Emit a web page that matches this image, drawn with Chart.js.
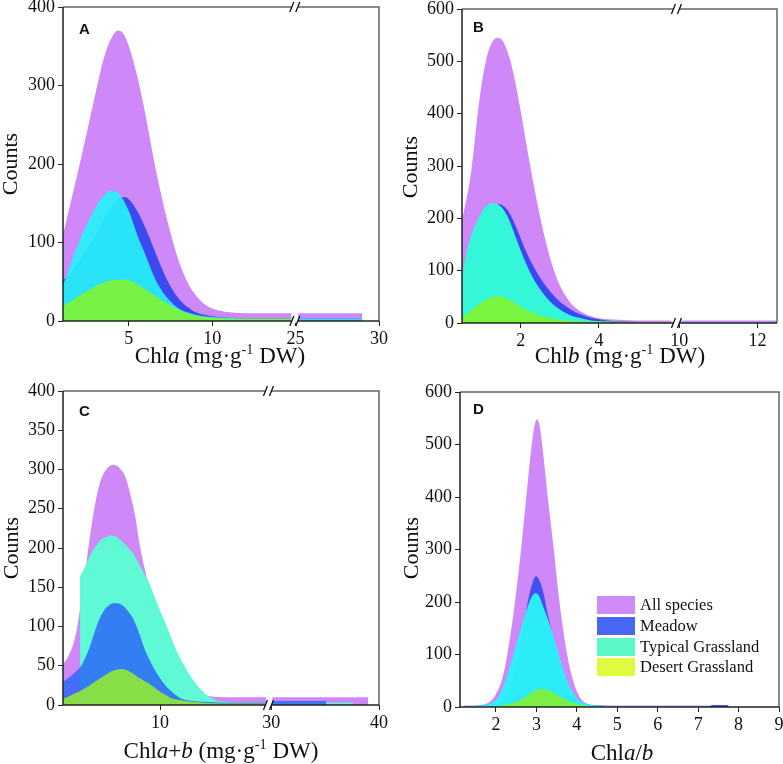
<!DOCTYPE html>
<html>
<head>
<meta charset="utf-8">
<script src="https://cdn.jsdelivr.net/npm/chart.js@4.4.1/dist/chart.umd.min.js"></script>
<style>
    html, body { margin: 0; padding: 0; background: #fff; }
    #wrap { position: relative; width: 783px; height: 764px; overflow: hidden; font-family: 'Liberation Serif', 'Times New Roman', serif; color: #111; }
    #wrap canvas { position: absolute; }
    .xt { position: absolute; font-size: 23px; line-height: 1; white-space: nowrap; transform: translate(-50%, -50%); }
    .yt { position: absolute; font-size: 22px; line-height: 1; white-space: nowrap; transform: translate(-50%, -50%) rotate(-90deg); }
    .tag { position: absolute; font: bold 15px 'Liberation Sans', Arial, sans-serif; line-height: 1; }
    sup { font-size: 0.62em; vertical-align: 0.6em; line-height: 0; }
    #legend { position: absolute; left: 597px; top: 595px; font-size: 16.5px; }
    #legend .row { height: 20.7px; display: flex; align-items: center; }
    #legend .sw { width: 38px; height: 18px; margin-right: 5px; }
</style>
</head>
<body>
<div id="wrap">
    <canvas id="chartA" width="391" height="402" style="left:0;top:-20px"></canvas>
    <canvas id="chartB" width="392" height="402" style="left:391px;top:-20px"></canvas>
    <canvas id="chartC" width="391" height="402" style="left:0;top:362px"></canvas>
    <canvas id="chartD" width="400" height="402" style="left:391px;top:362px"></canvas>

    <div class="tag" style="left:79px;top:21px">A</div>
    <div class="tag" style="left:473px;top:19px">B</div>
    <div class="tag" style="left:79px;top:403px">C</div>
    <div class="tag" style="left:473px;top:401px">D</div>

    <div class="yt" style="left:10px;top:164px">Counts</div>
    <div class="yt" style="left:410px;top:167px">Counts</div>
    <div class="yt" style="left:11px;top:548px">Counts</div>
    <div class="yt" style="left:411px;top:548px">Counts</div>

    <div class="xt" style="left:220px;top:355px">Chl<i>a</i> (mg·g<sup>-1</sup> DW)</div>
    <div class="xt" style="left:620px;top:355px">Chl<i>b</i> (mg·g<sup>-1</sup> DW)</div>
    <div class="xt" style="left:221px;top:750px">Chl<i>a</i>+<i>b</i> (mg·g<sup>-1</sup> DW)</div>
    <div class="xt" style="left:622px;top:752px">Chl<i>a</i>/<i>b</i></div>

    <div id="legend"></div>
</div>

<script>
// --- DATA: [x, count] pairs ---
const seriesNames = ['All species', 'Meadow', 'Typical Grassland', 'Desert Grassland'];
const legendColors = ['#d08af8', '#4a66f5', '#5cf8c8', '#e0fa40'];

// A: Chl a
const aAll = [[1.05,110],[1.5,150],[2,195],[2.5,242],[3,290],[3.5,335],[4,362],[4.35,370],[4.7,365],[5,350],[5.5,312],[6,262],[6.5,205],[7,155],[7.5,112],[8,76],[8.5,50],[9,33],[9.5,22],[10,16],[10.5,13],[11,11],[12,10],[13,10],[14.75,10],[25.15,10],[29,10]];
const aMeadow = [[1.05,52],[1.5,60],[2,76],[2.5,92],[3,110],[3.5,130],[4,147],[4.7,158],[5,155],[5.5,140],[6,118],[6.5,92],[7,66],[7.5,44],[8,28],[8.5,18],[9,11],[10,6],[11,4],[12,3],[14.75,3],[25.15,3],[29,3]];
const aTypical = [[1.05,46],[1.5,72],[2,100],[2.5,124],[3,145],[3.5,160],[4,166],[4.5,160],[5,140],[5.5,110],[6,84],[6.5,57],[7,38],[7.5,25],[8,16],[8.5,11],[9,8],[10,5],[11,4],[12,3],[14.75,3],[25.15,3],[29,3]];
const aDesert = [[1.05,19],[1.5,25],[2,32],[2.5,38],[3,44],[3.5,49],[4,52],[4.7,53],[5,52],[5.5,47],[6,40],[6.5,33],[7,26],[7.5,20],[8,14],[8.5,10],[9,7],[9.5,5],[10,4],[11,3],[12,3],[14.75,3]];
const aXTicks = [5, 10, 25, 30];

// B: Chl b
const bAll = [[0.5,197],[0.6,232],[0.7,272],[0.8,330],[0.9,400],[1,455],[1.1,497],[1.2,525],[1.3,540],[1.42,545],[1.55,538],[1.7,510],[1.85,465],[2,405],[2.2,318],[2.4,238],[2.6,168],[2.8,112],[3,72],[3.2,46],[3.4,29],[3.6,19],[3.8,13],[4,9],[4.5,6],[5,5],[5.85,5],[10.05,5],[12.5,5]];
const bMeadow = [[0.5,85],[0.65,132],[0.8,170],[0.95,198],[1.1,215],[1.3,225],[1.46,227],[1.6,221],[1.75,205],[1.9,180],[2.1,143],[2.3,112],[2.5,86],[2.7,65],[2.9,48],[3.1,35],[3.3,25],[3.5,17],[3.8,10],[4.2,5],[4.6,3],[5,2],[5.85,2],[10.05,2],[12.5,2]];
const bTypical = [[0.5,90],[0.65,146],[0.8,180],[0.9,197],[1.1,222],[1.3,229],[1.5,222],[1.7,198],[1.9,158],[2.1,120],[2.3,88],[2.5,64],[2.7,45],[2.9,31],[3.1,21],[3.3,14],[3.5,10],[3.8,5],[4.2,3],[5,2],[5.85,2],[10.05,2],[12.5,2]];
const bDesert = [[0.5,10],[0.7,22],[0.9,34],[1.1,44],[1.4,51],[1.7,45],[2,31],[2.3,20],[2.6,12],[2.9,7],[3.3,4],[4,3],[5,2],[5.85,2]];
const bXTicks = [2, 4, 10, 12];

// C: Chl a+b
const cAll = [[1,52],[1.5,62],[2,80],[2.33,100],[2.6,125],[2.9,152],[3.35,200],[3.9,250],[4.4,282],[5,300],[5.7,306],[6.3,301],[6.8,290],[7.3,265],[7.7,240],[8.1,205],[8.5,178],[9,150],[9.5,122],[10,95],[10.5,75],[11,57],[12,33],[13,19],[14,13],[15,10.5],[16,10],[19.85,10],[30.1,10],[39,10]];
const cMeadow = [[1,30],[1.5,34],[2,40],[2.58,48],[3,58],[3.5,75],[4,96],[4.5,113],[5,124],[5.8,130],[6.5,127],[7,120],[7.5,110],[8,94],[8.5,74],[9,58],[9.5,45],[10,34],[10.5,25],[11,18],[11.5,12],[12,8],[13,5],[14,4],[16,3],[19.85,3],[30.1,5],[35.1,5]];
const cTypical = [[2.58,164],[3,175],[3.5,190],[4,202],[4.5,210],[5,214],[5.5,216],[6,214],[6.5,208],[7,201],[7.5,193],[8,181],[8.5,168],[9,155],[9.5,138],[10,120],[10.5,104],[11,87],[11.5,70],[12,56],[12.5,44],[13,33],[13.5,24],[14,17],[14.5,11],[15,7],[16,4],[17,3],[19.85,3],[30.1,3],[37.6,3]];
const cDesert = [[1,8],[2,14],[3,21],[4,30],[5,39],[5.5,43],[6.4,46],[7,44],[7.5,40],[8,35],[8.5,31],[9,27],[9.5,22],[10,17],[10.5,13],[11,9],[12,6],[13,4],[14,3],[16,2],[19.85,2]];
const cXTicks = [10, 30, 40];

// D: Chl a/b
const dAll = [[1.2,3],[1.6,4],[1.85,10],[2,25],[2.14,50],[2.28,100],[2.47,200],[2.62,300],[2.75,400],[2.87,490],[2.94,530],[3.01,548],[3.08,535],[3.15,495],[3.28,400],[3.43,300],[3.57,200],[3.76,100],[3.91,50],[4.05,22],[4.17,10],[4.4,4],[5,3],[6,3],[7,3],[7.75,3]];
const dMeadow = [[1.6,2],[2,5],[2.2,20],[2.4,55],[2.6,120],[2.8,205],[2.92,240],[2.98,249],[3.05,245],[3.15,225],[3.3,170],[3.5,105],[3.7,50],[3.9,20],[4.1,8],[4.5,3],[5,2],[7.3,2],[7.35,4],[7.75,4]];
const dTypical = [[1.2,2],[1.6,3],[1.94,10],[2.1,25],[2.23,50],[2.43,100],[2.62,150],[2.8,195],[2.9,212],[2.98,217],[3.06,212],[3.15,195],[3.36,150],[3.55,100],[3.76,50],[3.95,22],[4.1,10],[4.4,4],[5,2],[6,2],[7.3,2]];
const dDesert = [[1.8,1],[2.2,4],[2.52,10],[2.75,20],[2.95,31],[3.14,35],[3.35,30],[3.6,19],[3.84,10],[4.1,4],[4.5,1]];
const dXTicks = [2, 3, 4, 5, 6, 7, 8, 9];

// --- broken x axis helpers ---
function toCoord(x, brk) {
    return brk && x > brk.lo ? x - brk.shift : x;
}

function buildPoints(pairs, brk) {
    const pts = [];
    pairs.forEach(([x, y], i) => {
        if (brk && i > 0 && pairs[i - 1][0] <= brk.lo && x > brk.lo) {
            pts.push({ x: brk.at, y: null }); // gap at the axis break
        }
        pts.push({ x: toCoord(x, brk), y: y });
    });
    return pts;
}

// Box frame + "//" break marks
const framePlugin = {
    id: 'frame',
    afterDraw(chart, args, opts) {
        const { ctx, chartArea: { left, right, top, bottom } } = chart;
        ctx.save();
        ctx.lineWidth = 1.5;
        ctx.strokeStyle = '#666';
        ctx.beginPath();
        ctx.moveTo(left, top); ctx.lineTo(right, top); ctx.lineTo(right, bottom);
        ctx.stroke();
        ctx.strokeStyle = '#222';
        ctx.beginPath();
        ctx.moveTo(left, top); ctx.lineTo(left, bottom); ctx.lineTo(right, bottom);
        ctx.stroke();
        if (opts.at != null) {
            const px = chart.scales.x.getPixelForValue(opts.at);
            [top, bottom].forEach(y => {
                ctx.fillStyle = '#fff';
                ctx.fillRect(px - 3, y - 2, 6, 4);
                ctx.strokeStyle = '#111';
                ctx.lineWidth = 1.3;
                ctx.beginPath();
                ctx.moveTo(px - 5, y + 5); ctx.lineTo(px - 1, y - 5);
                ctx.moveTo(px + 1, y + 5); ctx.lineTo(px + 5, y - 5);
                ctx.stroke();
            });
        }
        ctx.restore();
    }
};

const tickFont = { family: "'Liberation Serif', 'Times New Roman', serif", size: 18 };

function makePanel(canvasId, p) {
    const datasets = p.series.map((s, i) => ({
        label: seriesNames[i],
        data: buildPoints(s, p.brk),
        backgroundColor: p.colors[i],
        borderColor: 'transparent',
        borderWidth: 0,
        pointRadius: 0,
        fill: 'origin',
        tension: 0.4,
        cubicInterpolationMode: 'monotone',
        spanGaps: false,
        order: p.order[i]
    }));

    new Chart(document.getElementById(canvasId), {
        type: 'line',
        data: { datasets: datasets },
        options: {
            responsive: false,
            animation: false,
            events: [],
            layout: { padding: p.pad },
            plugins: {
                legend: { display: false },
                tooltip: { enabled: false },
                frame: { at: p.brk ? p.brk.at : null }
            },
            scales: {
                x: {
                    type: 'linear',
                    min: p.xMin,
                    max: p.xMax,
                    border: { display: false },
                    grid: { drawOnChartArea: false, drawTicks: true, tickLength: 5, color: '#222' },
                    afterBuildTicks: scale => {
                        scale.ticks = p.xTicks.map(v => ({ value: toCoord(v, p.brk), label: String(v) }));
                    },
                    afterFit: scale => { scale.height = p.xH; },
                    ticks: {
                        autoSkip: false,
                        maxRotation: 0,
                        padding: 2,
                        color: '#111',
                        font: tickFont,
                        callback: function(value, index) { return String(p.xTicks[index]); }
                    }
                },
                y: {
                    min: 0,
                    max: p.yMax,
                    border: { display: false },
                    grid: { drawOnChartArea: false, drawTicks: true, tickLength: 5, color: '#222' },
                    afterFit: scale => { scale.width = p.yW; },
                    ticks: { stepSize: p.yStep, padding: 3, color: '#111', font: tickFont }
                }
            }
        },
        plugins: [framePlugin]
    });
}

makePanel('chartA', {
    series: [aAll, aMeadow, aTypical, aDesert],
    colors: ['#cf88f7', '#3a4af0', 'rgba(40,240,250,0.93)', 'rgba(124,242,58,0.95)'],
    order: [4, 3, 2, 1],
    brk: { lo: 14.9, shift: 10, at: 14.95 },
    xMin: 1.05, xMax: 20, xTicks: aXTicks,
    yMax: 400, yStep: 100,
    pad: { top: 27, right: 12, bottom: 0, left: 0 }, yW: 63, xH: 61
});

makePanel('chartB', {
    series: [bAll, bMeadow, bTypical, bDesert],
    colors: ['#cf88f7', '#3a4af2', '#33f7d8', 'rgba(124,244,58,0.97)'],
    order: [4, 3, 2, 1],
    brk: { lo: 6, shift: 3.95, at: 5.98 },
    xMin: 0.5, xMax: 8.55, xTicks: bXTicks,
    yMax: 600, yStep: 100,
    pad: { top: 29, right: 6, bottom: 0, left: 0 }, yW: 71, xH: 59
});

makePanel('chartC', {
    series: [cAll, cMeadow, cTypical, cDesert],
    colors: ['#cf88f7', 'rgba(45,105,248,0.85)', '#5ff9d6', 'rgba(150,238,40,0.85)'],
    order: [4, 2, 3, 1],
    brk: { lo: 20, shift: 9.7, at: 20.05 },
    xMin: 1, xMax: 30.3, xTicks: cXTicks,
    yMax: 400, yStep: 50,
    pad: { top: 29, right: 12, bottom: 0, left: 0 }, yW: 63, xH: 59
});

makePanel('chartD', {
    series: [dAll, dMeadow, dTypical, dDesert],
    colors: ['#cf88f7', '#4050f2', 'rgba(44,242,250,0.96)', 'rgba(126,240,60,0.95)'],
    order: [4, 3, 2, 1],
    brk: null,
    xMin: 1.11, xMax: 9, xTicks: dXTicks,
    yMax: 600, yStep: 100,
    pad: { top: 30, right: 12, bottom: 0, left: 0 }, yW: 69, xH: 57
});

// Legend inside panel D
const legendEl = document.getElementById('legend');
seriesNames.forEach((name, i) => {
    const row = document.createElement('div');
    row.className = 'row';
    row.innerHTML = '<span class="sw" style="background:' + legendColors[i] + '"></span><span>' + name + '</span>';
    legendEl.appendChild(row);
});
</script>
</body>
</html>
